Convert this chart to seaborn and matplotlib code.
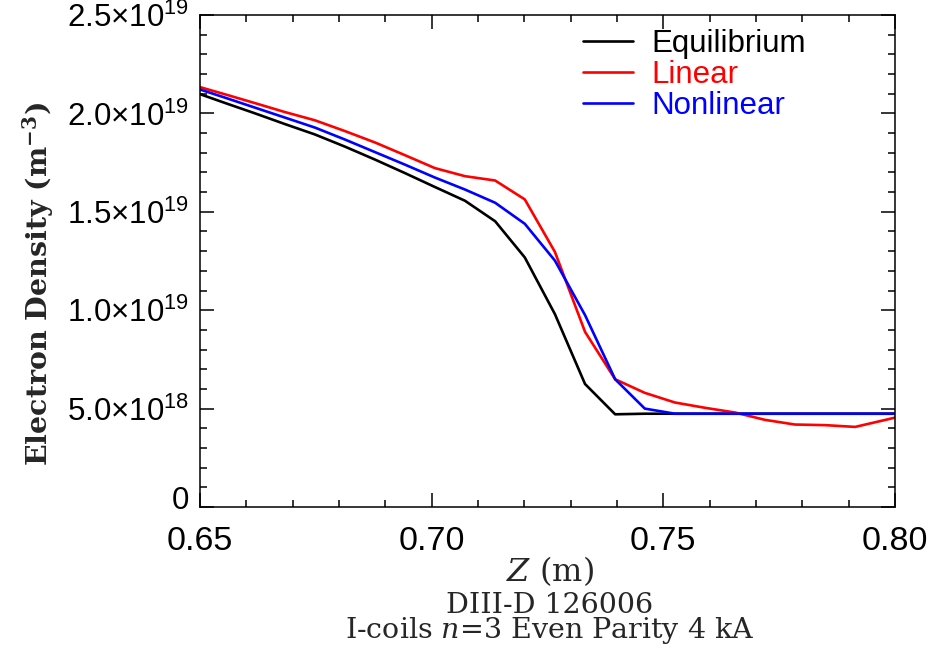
import matplotlib
matplotlib.use("Agg")
import matplotlib.pyplot as plt
import matplotlib.transforms as mtransforms
import pandas as pd
import seaborn as sns
from matplotlib.ticker import MultipleLocator

# Z positions of the profile samples (m)
Z_M = [0.6489, 0.6554, 0.6619, 0.6683, 0.6748, 0.6813, 0.6878, 0.6942,
       0.7007, 0.7072, 0.7137, 0.7201, 0.7266, 0.7331, 0.7396, 0.7460,
       0.7525, 0.7590, 0.7655, 0.7719, 0.7784, 0.7849, 0.7914, 0.7978,
       0.8043]

# electron density, in units of 1e19 m^-3
EQUILIBRIUM = [2.107, 2.053, 2.000, 1.946, 1.893, 1.831, 1.765, 1.697,
               1.626, 1.556, 1.452, 1.268, 0.980, 0.625, 0.471, 0.474,
               0.474, 0.474, 0.474, 0.474, 0.474, 0.474, 0.474, 0.474,
               0.474]
LINEAR = [2.141, 2.097, 2.052, 2.007, 1.965, 1.910, 1.852, 1.788,
          1.722, 1.681, 1.659, 1.563, 1.296, 0.890, 0.649, 0.580,
          0.531, 0.504, 0.480, 0.443, 0.419, 0.416, 0.407, 0.442,
          0.478]
NONLINEAR = [2.130, 2.080, 2.029, 1.979, 1.928, 1.867, 1.803, 1.740,
             1.674, 1.613, 1.546, 1.439, 1.252, 0.975, 0.649, 0.500,
             0.474, 0.474, 0.474, 0.474, 0.474, 0.474, 0.474, 0.474,
             0.474]
DENSITY_UNIT = 1e19

SERIES = ["Equilibrium", "Linear", "Nonlinear"]
PALETTE = {"Equilibrium": "#000000", "Linear": "#ff0000", "Nonlinear": "#0000ff"}

X_TICKS = [0.65, 0.70, 0.75, 0.80]
X_TICK_LABELS = ["0.65", "0.70", "0.75", "0.80"]
Y_TICKS = [0, 0.5e19, 1.0e19, 1.5e19, 2.0e19, 2.5e19]
Y_TICK_LABELS = ["0",
                 r"$\mathregular{5.0{\times}10^{18}}$",
                 r"$\mathregular{1.0{\times}10^{19}}$",
                 r"$\mathregular{1.5{\times}10^{19}}$",
                 r"$\mathregular{2.0{\times}10^{19}}$",
                 r"$\mathregular{2.5{\times}10^{19}}$"]

sns.set_style("ticks")
plt.rcParams["font.family"] = ["Liberation Sans", "DejaVu Sans"]
plt.rcParams["mathtext.fontset"] = "custom"
plt.rcParams["mathtext.rm"] = "Liberation Sans"
plt.rcParams["mathtext.it"] = "DejaVu Serif:italic"
plt.rcParams["mathtext.bf"] = "DejaVu Serif:bold"

df = pd.DataFrame({
    "z": Z_M * 3,
    "ne": [v * DENSITY_UNIT for v in EQUILIBRIUM + LINEAR + NONLINEAR],
    "case": [s for s in SERIES for _ in Z_M],
})

fig = plt.figure(figsize=(9.36, 6.5), dpi=100)
ax = fig.add_axes([200 / 936, 1 - 507 / 650, 695 / 936, 492 / 650])

sns.lineplot(data=df, x="z", y="ne", hue="case", hue_order=SERIES,
             palette=PALETTE, estimator=None, sort=False, linewidth=1.9,
             ax=ax, legend=False)

ax.set_xlim(0.65, 0.80)
ax.set_ylim(0, 2.5e19)
ax.set_xticks(X_TICKS)
ax.set_xticklabels(X_TICK_LABELS)
ax.set_yticks(Y_TICKS)
ax.set_yticklabels(Y_TICK_LABELS)
ax.xaxis.set_minor_locator(MultipleLocator(0.01))
ax.yaxis.set_minor_locator(MultipleLocator(1e18))
ax.tick_params(which="both", direction="in", top=True, right=True,
               width=1.1, colors="black")
ax.tick_params(which="major", length=10)
ax.tick_params(which="minor", length=5)
ax.tick_params(axis="y", which="major", pad=8, labelsize=22.5)
ax.tick_params(axis="x", which="major", pad=14, labelsize=24.5)
for sp in ax.spines.values():
    sp.set_linewidth(1.1)
    sp.set_color("black")
ax.set_xlabel("")
ax.set_ylabel("")

# the "0" label sits a little above its tick in the original
zero_lbl = ax.get_yticklabels()[0]
zero_lbl.set_transform(zero_lbl.get_transform() +
                       mtransforms.ScaledTranslation(0, 7 / 72, fig.dpi_scale_trans))

leg = ax.legend(ax.get_lines(), SERIES, loc="upper left",
                bbox_to_anchor=(0.551, 0.972), frameon=False, fontsize=22.5,
                handlelength=1.6, handletextpad=0.6, labelspacing=0.03,
                borderpad=0, borderaxespad=0, labelcolor="linecolor")

serif = ["DejaVu Serif"]
fig.text(38 / 936, 1 - 284 / 650, r"Electron Density (m$^{\mathbf{-3}}$)",
         rotation=90, ha="center", va="center", fontsize=20.5,
         fontweight="bold", family=serif)
fig.text(550 / 936, 1 - 571 / 650, r"$\mathit{Z}$ (m)", ha="center",
         va="center", fontsize=23, family=serif)
fig.text(550 / 936, 1 - 619 / 650,
         "DIII-D 126006\n" + r"I-coils $\mathit{n}$=3 Even Parity 4 kA",
         ha="center", va="center", multialignment="center",
         linespacing=0.85, fontsize=20.5, family=serif)

fig.savefig("out.png", dpi=100)
